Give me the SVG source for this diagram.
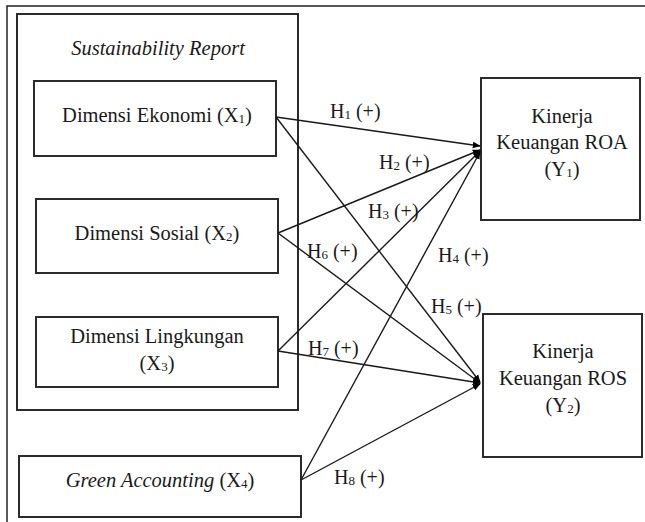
<svg xmlns="http://www.w3.org/2000/svg" width="645" height="522" viewBox="0 0 645 522">
<defs>
<style>
.box{fill:none;stroke:#2b2b2b;stroke-width:2}
.t{font-family:"Liberation Serif","Times New Roman",serif;font-size:20.5px;fill:#1a1a1a;text-anchor:middle}
.l{font-family:"Liberation Serif","Times New Roman",serif;font-size:20px;fill:#1a1a1a}
.i{font-style:italic}
.s{font-size:13px}
.c{stroke:#1a1a1a;stroke-width:1.4;fill:none;marker-end:url(#ah)}
</style>
<marker id="ah" viewBox="0 0 10 10" refX="9" refY="5" markerWidth="8" markerHeight="8" orient="auto" markerUnits="userSpaceOnUse">
<path d="M0,1 L10,5 L0,9 Z" fill="#000"/>
</marker>
</defs>
<rect width="645" height="522" fill="#fff"/>
<path d="M7,522 V6 H645" fill="none" stroke="#222" stroke-width="1.5"/>

<g id="sustainability-report">
<rect class="box" x="17" y="14" width="281" height="396"/>
<text class="t i" x="158" y="55">Sustainability Report</text>
</g>
<g id="x1">
<rect class="box" x="34" y="81" width="242" height="75"/>
<text class="t" x="157" y="122">Dimensi Ekonomi (X<tspan class="s" dy="1">1</tspan><tspan dy="-1">)</tspan></text>
</g>
<g id="x2">
<rect class="box" x="36" y="199" width="242" height="74"/>
<text class="t" x="157" y="240">Dimensi Sosial (X<tspan class="s" dy="1">2</tspan><tspan dy="-1">)</tspan></text>
</g>
<g id="x3">
<rect class="box" x="36" y="317" width="242" height="70"/>
<text class="t" x="157" y="343">Dimensi Lingkungan</text>
<text class="t" x="157" y="370">(X<tspan class="s" dy="1">3</tspan><tspan dy="-1">)</tspan></text>
</g>
<g id="x4">
<rect class="box" x="19" y="456" width="282" height="61"/>
<text class="t" x="160" y="487"><tspan class="i">Green Accounting</tspan> (X<tspan class="s" dy="1">4</tspan><tspan dy="-1">)</tspan></text>
</g>
<g id="y1">
<rect class="box" x="481" y="78" width="159" height="142"/>
<text class="t" x="562" y="123">Kinerja</text>
<text class="t" x="562" y="149">Keuangan ROA</text>
<text class="t" x="562" y="176">(Y<tspan class="s" dy="1">1</tspan><tspan dy="-1">)</tspan></text>
</g>
<g id="y2">
<rect class="box" x="483" y="314" width="159" height="143"/>
<text class="t" x="563" y="358">Kinerja</text>
<text class="t" x="563" y="385">Keuangan ROS</text>
<text class="t" x="563" y="412">(Y<tspan class="s" dy="1">2</tspan><tspan dy="-1">)</tspan></text>
</g>

<g id="connectors">
<line class="c" x1="276" y1="117" x2="480" y2="146"/>
<line class="c" x1="278" y1="233" x2="480" y2="150"/>
<line class="c" x1="278" y1="351" x2="480" y2="151"/>
<line class="c" x1="301" y1="480" x2="480" y2="152"/>
<line class="c" x1="276" y1="117" x2="480" y2="382"/>
<line class="c" x1="278" y1="233" x2="480" y2="383"/>
<line class="c" x1="278" y1="351" x2="480" y2="383"/>
<line class="c" x1="301" y1="480" x2="480" y2="384"/>
</g>

<g id="labels">
<text class="l" x="330" y="118">H<tspan class="s" dy="1">1</tspan><tspan dy="-1"> (+)</tspan></text>
<text class="l" x="379" y="169">H<tspan class="s" dy="1">2</tspan><tspan dy="-1"> (+)</tspan></text>
<text class="l" x="368" y="218">H<tspan class="s" dy="1">3</tspan><tspan dy="-1"> (+)</tspan></text>
<text class="l" x="307" y="258">H<tspan class="s" dy="1">6</tspan><tspan dy="-1"> (+)</tspan></text>
<text class="l" x="438" y="262">H<tspan class="s" dy="1">4</tspan><tspan dy="-1"> (+)</tspan></text>
<text class="l" x="431" y="313">H<tspan class="s" dy="1">5</tspan><tspan dy="-1"> (+)</tspan></text>
<text class="l" x="308" y="355">H<tspan class="s" dy="1">7</tspan><tspan dy="-1"> (+)</tspan></text>
<text class="l" x="334" y="484">H<tspan class="s" dy="1">8</tspan><tspan dy="-1"> (+)</tspan></text>
</g>
</svg>
